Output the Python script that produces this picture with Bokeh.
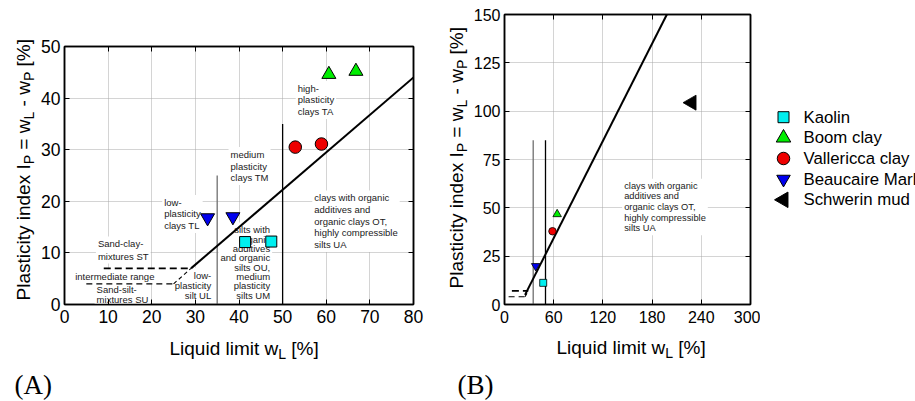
from math import pi

from bokeh.core.properties import value
from bokeh.embed import file_html
from bokeh.models import (ColumnDataSource, CustomLabelingPolicy, FixedTicker, Label,
                          LinearAxis, Range1d)
from bokeh.plotting import figure
from bokeh.resources import INLINE

FONT = "Liberation Sans"
SERIF = "Liberation Serif"

# ------------------------------------------------------------------ data
materials = ["Kaolin", "Boom clay", "Vallericca clay", "Beaucaire Marl", "Schwerin mud"]
marker_shapes = ["square", "triangle", "circle", "inverted_triangle", "triangle"]
marker_angles = [0, 0, 0, 0, pi / 2]          # Schwerin mud: triangle pointing left
fill_colors = ["#00efef", "#00ee00", "#ee0000", "#0000ee", "#000000"]

# panel A: liquid limit wL [%] / plasticity index Ip [%]
kaolin_a_wl = [41.4, 47.4]
kaolin_a_ip = [12.1, 12.2]
boom_a_wl = [60.6, 66.8]
boom_a_ip = [44.6, 45.2]
vallericca_a_wl = [52.9, 58.9]
vallericca_a_ip = [30.5, 31.1]
beaucaire_a_wl = [32.8, 38.6]
beaucaire_a_ip = [16.8, 17.0]

# panel B: one point per material (same order as `materials`)
b_wl = [47.2, 64.2, 58.5, 38.0, 228.3]
b_ip = [11.2, 46.7, 37.9, 19.9, 104.4]

# classification boundaries of the plasticity chart
a_line_a_wl = [29.0, 80.0]
a_line_a_ip = [7.0, 44.0]
a_line_b_wl = [25.0, 198.0]
a_line_b_ip = [5.0, 150.0]
st_limit_wl = [9.0, 29.0]
st_limit_ip = [7.0, 7.0]
su_limit_wl = [5.0, 25.0]
su_limit_ip = [4.0, 4.0]
link_wl = [25.0, 29.0]
link_ip = [4.0, 7.0]
wl_35 = [35.0, 35.0]
wl_50 = [50.0, 50.0]
ip_35_a = [0.0, 25.0]
ip_50_a = [0.0, 35.0]
ip_b = [0.0, 85.0]

# axes
x_ticks_a = [0, 10, 20, 30, 40, 50, 60, 70, 80]
y_ticks_a = [0, 10, 20, 30, 40, 50]
x_ticks_b = [0, 60, 120, 180, 240, 300]
y_ticks_b = [0, 25, 50, 75, 100, 125, 150]

# axis titles: (text, is_subscript)
x_title = [("Liquid limit w", False), ("L", True), (" [%]", False)]
y_title = [("Plasticity index I", False), ("P", True), (" = w", False), ("L", True),
           (" - w", False), ("P", True), (" [%]", False)]

# ------------------------------------------------------------------ helpers
ARIAL = {" ": 278, "[": 278, "]": 278, "%": 889, "=": 584, "-": 333, "I": 278, "L": 556,
         "P": 667, "a": 556, "c": 500, "d": 556, "e": 556, "i": 222, "l": 222, "m": 833,
         "n": 556, "q": 556, "s": 500, "t": 278, "u": 556, "w": 722, "x": 500, "y": 500}
LINE_EM = 1.117          # ascent + descent of Liberation Sans, in em

free_text = dict(x=[], y=[], text=[], angle=[], size=[], font=[])


def text_px(s, size):
    return sum(ARIAL.get(ch, 556) for ch in s) * size / 1000.0


def put_text(x, y, text, size, font=FONT, angle=0.0):
    free_text["x"].append(x)
    free_text["y"].append(y)
    free_text["text"].append(text)
    free_text["angle"].append(angle)
    free_text["size"].append(f"{size:.1f}px")
    free_text["font"].append(font)


def rich_title(pieces, px, py, size, vertical=False):
    """Title with subscripts; px, py = page point where its text line starts."""
    pos = 0.0
    for txt, sub in pieces:
        fs = size * 0.74 if sub else size
        drop = size * 0.27 if sub else 0.0
        lead = len(txt) - len(txt.lstrip(" "))
        pos += text_px(" " * lead, fs)
        body = txt.strip(" ")
        if vertical:
            put_text(px + drop, py - pos, body, fs, angle=pi / 2)
        else:
            put_text(px + pos, py + drop, body, fs)
        pos += text_px(body, fs)


def region_label(fig, x, y, text, spacing, align="left", baseline="top", size=9.5):
    """Zone name of the chart; `spacing` is the distance between text lines in pixels."""
    fig.add_layout(Label(x=x, y=y, text=text, text_align=align, text_baseline=baseline,
                         text_font=FONT, text_font_size=f"{size}px", text_color="#1a1a1a",
                         text_line_height=spacing / (LINE_EM * size),
                         background_fill_color="white", padding=2, level="underlay"))


def style_frame(fig, xticks, yticks, label_size, x_standoff, y_standoff):
    fig.xaxis.ticker = FixedTicker(ticks=xticks)
    fig.yaxis.ticker = FixedTicker(ticks=yticks)
    for ax, st in ((fig.xaxis, x_standoff), (fig.yaxis, y_standoff)):
        ax.major_tick_in = 5
        ax.major_tick_out = 0
        ax.minor_tick_in = 0
        ax.minor_tick_out = 0
        ax.axis_line_width = 1.5
        ax.axis_line_color = "black"
        ax.major_tick_line_color = "black"
        ax.major_label_text_font = FONT
        ax.major_label_text_font_size = label_size
        ax.major_label_text_color = "black"
        ax.major_label_standoff = st
    for grid, ticks in ((fig.xgrid, xticks), (fig.ygrid, yticks)):
        grid.ticker = FixedTicker(ticks=ticks)
        grid.grid_line_color = "#a8a8a8"
        grid.grid_line_dash = "1 1"
        grid.grid_line_width = 1
        grid.level = "image"
    # tick marks on the top and right edges of the frame, without numbers
    for place, ticks in (("above", xticks), ("right", yticks)):
        extra = LinearAxis(ticker=FixedTicker(ticks=ticks), major_label_text_font_size="2px",
                           major_label_policy=CustomLabelingPolicy(
                               code="for (const i of indices) indices.unset(i)\nreturn indices"),
                           major_tick_in=5, major_tick_out=0, minor_tick_in=0, minor_tick_out=0,
                           major_label_standoff=0, axis_line_width=1.5, axis_line_color="black")
        fig.add_layout(extra, place)
    fig.outline_line_color = "black"
    fig.outline_line_width = 1.5
    fig.outline_line_alpha = 1.0


def boundaries(fig, a_wl, a_ip, ip35, ip50):
    fig.line(st_limit_wl, st_limit_ip, line_color="black", line_width=1.8, line_dash="7 4")
    fig.line(su_limit_wl, su_limit_ip, line_color="black", line_width=1.1, line_dash="6 4")
    fig.line(link_wl, link_ip, line_color="black", line_width=1.1, line_dash="4 3")
    fig.line(wl_35, ip35, line_color="#707070", line_width=1.3)
    fig.line(wl_50, ip50, line_color="black", line_width=1.3)
    fig.line(a_wl, a_ip, line_color="black", line_width=2)


# ------------------------------------------------------------------ panel A
pa = figure(width=450, height=401, x_range=Range1d(0, 80), y_range=Range1d(0, 50),
            output_backend="svg", toolbar_location=None,
            min_border_left=64, min_border_right=37, min_border_top=46, min_border_bottom=97)
style_frame(pa, x_ticks_a, y_ticks_a, "17.5px", 5, 4)

region_label(pa, 53.0, 43.3, "high-\nplasticity\nclays TA", 11)
region_label(pa, 37.6, 30.5, "medium\nplasticity\nclays TM", 11)
region_label(pa, 22.4, 21.2, "low-\nplasticity\nclays TL", 11)
region_label(pa, 56.8, 22.1,
             "clays with organic\nadditives and\norganic clays OT,\nhighly compressible\nsilts UA",
             11.25)
region_label(pa, 47.6, 15.9,
             "silts with\norganic\nadditives\nand organic\nsilts OU,\nmedium\nplasticity\nsilts UM",
             9, align="right")
region_label(pa, 34.1, 7.1, "low-\nplasticity\nsilt UL", 9.7, align="right")
region_label(pa, 7.2, 13.2, "Sand-clay-\nmixtures ST", 11.7)
region_label(pa, 2.0, 5.4, "intermediate range", 11, baseline="middle")
region_label(pa, 6.9, 4.3, "Sand-silt-\nmixtures SU", 9.6)

boundaries(pa, a_line_a_wl, a_line_a_ip, ip_35_a, ip_50_a)

pa.scatter(kaolin_a_wl, kaolin_a_ip, marker=marker_shapes[0], size=11,
           fill_color=fill_colors[0], line_color="black")
pa.scatter(boom_a_wl, boom_a_ip, marker=marker_shapes[1], size=14,
           fill_color=fill_colors[1], line_color="black")
pa.scatter(vallericca_a_wl, vallericca_a_ip, marker=marker_shapes[2], size=12.5,
           fill_color=fill_colors[2], line_color="black")
pa.scatter(beaucaire_a_wl, beaucaire_a_ip, marker=marker_shapes[3], size=14,
           fill_color=fill_colors[3], line_color="black")

# ------------------------------------------------------------------ panel B
pb = figure(width=310, height=401, x_range=Range1d(0, 300), y_range=Range1d(0, 150),
            output_backend="svg", toolbar_location=None,
            min_border_left=54, min_border_right=10, min_border_top=14, min_border_bottom=97)
style_frame(pb, x_ticks_b, y_ticks_b, "16px", 6, 4)

region_label(pb, 143.5, 65.0,
             "clays with organic\nadditives and\norganic clays OT,\nhighly compressible\nsilts UA",
             11, size=9.3)

boundaries(pb, a_line_b_wl, a_line_b_ip, ip_b, ip_b)

b_sizes = [7, 8.5, 7.5, 8.5, 15]
for i in range(len(materials)):
    pb.scatter([b_wl[i]], [b_ip[i]], marker=marker_shapes[i], angle=marker_angles[i],
               size=b_sizes[i], fill_color=fill_colors[i], line_color="black",
               line_width=0.8)

# ------------------------------------------------------------------ legend
pl = figure(width=155, height=401, x_range=Range1d(0, 155), y_range=Range1d(401, 0),
            output_backend="svg", toolbar_location=None, x_axis_type=None, y_axis_type=None,
            min_border=0)
pl.outline_line_color = None
pl.xgrid.visible = False
pl.ygrid.visible = False
row_y = [116.7 + 20.65 * i for i in range(len(materials))]
legend_sizes = [11, 14.5, 12.5, 13.5, 15.5]
pl.scatter([23] * len(materials), row_y, marker=marker_shapes, angle=marker_angles,
           size=legend_sizes, fill_color=fill_colors, line_color="black")
pl.text([43] * len(materials), row_y, text=materials, text_baseline="middle",
        text_font=value(FONT), text_font_size="16.8px", text_color="black")

# ------------------------------------------------------------------ titles and panel tags
# drawn on a transparent page-sized canvas laid over the panels (page pixels, y down)
rich_title(x_title, 169, 348, 19)
rich_title(y_title, 23, 300, 19, vertical=True)
rich_title(x_title, 556, 347, 19)
rich_title(y_title, 456, 288, 19, vertical=True)
put_text(14, 384, "(A)", 27, font=SERIF)
put_text(457, 384, "(B)", 27, font=SERIF)

po = figure(width=915, height=401, x_range=Range1d(0, 915), y_range=Range1d(401, 0),
            output_backend="svg", toolbar_location=None, x_axis_type=None, y_axis_type=None,
            min_border=0, background_fill_color=None, border_fill_color=None,
            styles={"position": "absolute", "left": "0px", "top": "0px",
                    "pointer-events": "none"})
po.outline_line_color = None
po.xgrid.visible = False
po.ygrid.visible = False
po.text(x="x", y="y", text="text", angle="angle", text_font_size="size", text_font="font",
        source=ColumnDataSource(free_text), text_align="left", text_baseline="alphabetic",
        text_color="black")

# the three panels sit side by side, each keeping its own frame geometry
side_by_side = "{% block postamble %}<style>body { display: flex; align-items: flex-start; }</style>{% endblock %}"
open("out.html", "w").write(file_html([pa, pb, pl, po], INLINE, "Plasticity chart",
                                      template=side_by_side))
